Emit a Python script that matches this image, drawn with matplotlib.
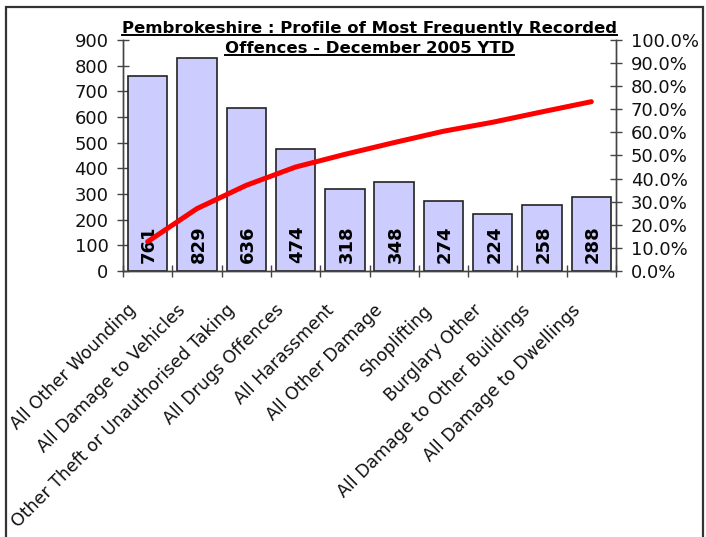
import matplotlib
matplotlib.use("Agg")
import matplotlib.pyplot as plt
from matplotlib.patches import Rectangle
from matplotlib.lines import Line2D
from matplotlib.ticker import FuncFormatter

categories = ["All Other Wounding", "All Damage to Vehicles",
              "Other Theft or Unauthorised Taking", "All Drugs Offences",
              "All Harassment", "All Other Damage", "Shoplifting",
              "Burglary Other", "All Damage to Other Buildings",
              "All Damage to Dwellings"]
counts = [761, 829, 636, 474, 318, 348, 274, 224, 258, 288]
cum_pct = [0.127, 0.270, 0.371, 0.450, 0.505, 0.556, 0.605, 0.644, 0.689, 0.733]
left_ticks = [0, 100, 200, 300, 400, 500, 600, 700, 800, 900]
right_ticks = [0.0, 0.1, 0.2, 0.3, 0.4, 0.5, 0.6, 0.7, 0.8, 0.9, 1.0]
title_lines = ["Pembrokeshire : Profile of Most Frequently Recorded",
               "Offences - December 2005 YTD"]

W, H = 706, 537
fig = plt.figure(figsize=(W / 100, H / 100), dpi=100)
plt.rcParams['font.family'] = ['DejaVu Sans']

L, R, T, B = 123, 616, 40, 271
ax = fig.add_axes([L / W, 1 - B / H, (R - L) / W, (B - T) / H])
ax2 = ax.twinx()

x = list(range(len(categories)))
ax.bar(x, counts, width=0.8, color="#CCCCFF", edgecolor="#222222", linewidth=1.2, zorder=2)
for xi, v in zip(x, counts):
    ax.text(xi + 0.03, 33, str(v), rotation=90, ha="center", va="bottom",
            fontsize=13, fontweight="bold", color="black", zorder=4)

ax.set_xlim(-0.5, len(categories) - 0.5)
ax.set_ylim(0, 900)
ax.set_yticks(left_ticks)
ax.set_xticks([i - 0.5 for i in range(len(categories) + 1)])
ax.set_xticklabels([])
for xi, cat in zip(x, categories):
    ax.annotate(cat, xy=(xi, 0), xycoords=("data", "axes fraction"),
                xytext=(-5.5, -21.5), textcoords="offset points",
                rotation=45, ha="right", va="top", fontsize=12.5,
                color="#111111", annotation_clip=False)
ax.tick_params(axis="x", which="major", direction="inout", length=9, width=1, color="#444444")
ax.tick_params(axis="y", direction="inout", length=9, width=1, color="#444444",
               labelsize=13, pad=6, labelcolor="#111111")

ax2.set_ylim(0, 1.0)
ax2.set_yticks(right_ticks)
ax2.yaxis.set_major_formatter(FuncFormatter(lambda v, p: f"{v * 100:.1f}%"))
ax2.tick_params(axis="y", direction="inout", length=9, width=1, color="#444444",
                labelsize=13, pad=6, labelcolor="#111111")
ax2.plot(x, cum_pct, color="#FF0000", linewidth=3.6, solid_capstyle="round",
         solid_joinstyle="round", zorder=5)

for a in (ax, ax2):
    a.spines["top"].set_visible(False)
    for s in ("left", "right", "bottom"):
        a.spines[s].set_color("#444444")
        a.spines[s].set_linewidth(1)
ax.set_zorder(1)
ax2.set_zorder(2)
ax2.patch.set_visible(False)

# title
cx = (L + R) / 2 / W
t1 = fig.text(cx, 1 - 33 / H, title_lines[0], ha="center", va="baseline",
              fontsize=10.5, fontweight="bold", color="black")
t2 = fig.text(cx, 1 - 53 / H, title_lines[1], ha="center", va="baseline",
              fontsize=10.5, fontweight="bold", color="black")
fig.canvas.draw()
r = fig.canvas.get_renderer()
w1 = t1.get_window_extent(r).width
fs = 10.5 * 497 / w1
t1.set_fontsize(fs)
t2.set_fontsize(fs)
fig.canvas.draw()
for t, yb in ((t1, 33), (t2, 53)):
    bb = t.get_window_extent(r)
    yy = 1 - (yb + 2) / H
    fig.add_artist(Line2D([bb.x0 / W, bb.x1 / W], [yy, yy], color="black",
                          linewidth=1.4, transform=fig.transFigure))

# outer border
fig.add_artist(Rectangle((6 / W, -0.02), (703 - 6) / W, 1.02 - 7 / H,
                         transform=fig.transFigure, fill=False,
                         edgecolor="#333333", linewidth=1.6))

fig.savefig("out.png", dpi=100)
